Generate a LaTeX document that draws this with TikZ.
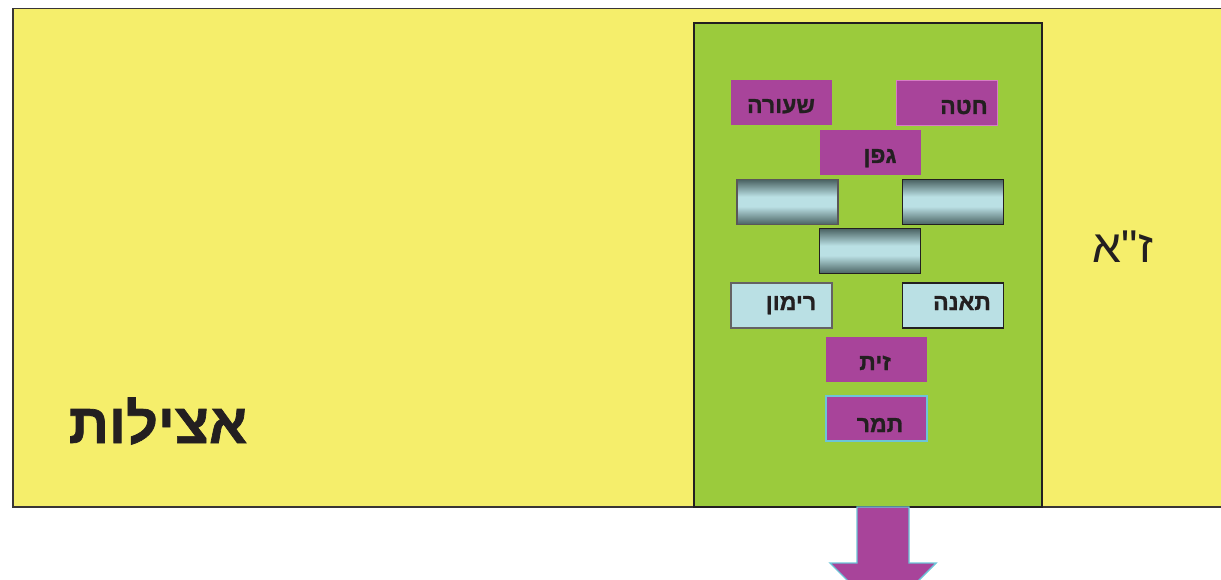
\documentclass[tikz,border=0pt]{standalone}
\usepackage{fontspec}
\TeXXeTstate=1
\newfontfamily\hebfont[Script=Hebrew, BoldFeatures={FakeBold=1.2}]{Liberation Sans}
\definecolor{yel}{HTML}{F5EE6B}
\definecolor{grn}{HTML}{9BCB3C}
\definecolor{mag}{HTML}{A8449A}
\definecolor{lblue}{HTML}{BAE0E4}
\definecolor{gdark}{HTML}{4A6262}
\definecolor{cyanb}{HTML}{6CC5D8}
\definecolor{pinkb}{HTML}{D77CC6}
\definecolor{framec}{HTML}{231F20}
\pgfdeclareverticalshading{cylshade}{100bp}{color(0bp)=(gdark); color(25bp)=(gdark); color(45bp)=(lblue); color(56bp)=(lblue); color(75bp)=(gdark); color(100bp)=(gdark)}
\tikzset{
  box/.style={rectangle, inner sep=0pt, minimum width=101pt, minimum height=45pt},
  fruit/.style={box, fill=mag},
  pale/.style={box, fill=lblue, draw=framec, line width=1.2pt},
  grad/.style={box, shading=cylshade, draw=framec, line width=1.2pt},
  lbl/.style={font=\hebfont\bfseries\fontsize{23}{26}\selectfont, text=framec, inner sep=0pt, anchor=base},
}
\begin{document}
\begin{tikzpicture}[x=1pt,y=-1pt]
\useasboundingbox (0,0) rectangle (1221,580);
\clip (0,0) rectangle (1221,580);
% worlds
\fill[white] (0,0) rectangle (1221,580);
\draw[fill=yel, draw=framec!90, line width=1.6pt] (13,8.5) rectangle (1240,507);
\draw[fill=grn, draw=framec, line width=1.8pt] (694,23) rectangle (1042,507);
\node[font=\hebfont\bfseries\fontsize{56}{60}\selectfont, text=framec, inner sep=0pt, anchor=base] (atz) at (158,443) {\beginR אצילות\endR};
\node[font=\hebfont\fontsize{46}{50}\selectfont, text=framec, inner sep=0pt, anchor=base] (za) at (1123,262) {\beginR ז"א\endR};
% boxes
\node[fruit] (seora) at (781.5,103) {};
\node[fruit, draw=pinkb, line width=1.2pt] (hita) at (947,103) {};
\node[fruit] (gefen) at (870.5,152.5) {};
\node[grad, draw=framec!75] (g1) at (787.5,202) {};
\node[grad, line width=1.6pt] (g2) at (953,202) {};
\node[grad, line width=1.6pt] (g3) at (870,251) {};
\node[pale, draw=framec!70] (rimon) at (781.5,305.5) {};
\node[pale, line width=1.6pt] (teena) at (953,305.5) {};
\node[fruit] (zayit) at (876.5,359) {};
\node[fruit, draw=cyanb, line width=1.5pt] (tamar) at (876.5,418.5) {};
% labels
\node[lbl] (tseora) at (781,113) {\beginR שעורה\endR};
\node[lbl] (thita) at (964,114) {\beginR חטה\endR};
\node[lbl] (tgefen) at (880,163) {\beginR גפן\endR};
\node[lbl] (trimon) at (791,310) {\beginR רימון\endR};
\node[lbl] (tteena) at (962,310) {\beginR תאנה\endR};
\node[lbl] (tzayit) at (875,370) {\beginR זית\endR};
\node[lbl] (ttamar) at (880,432) {\beginR תמר\endR};
% arrow downward
\draw[fill=mag, draw=cyanb, line width=1.4pt, line join=miter]
  (857,507) -- (909,507) -- (909,563) -- (936,563) -- (883,616) -- (830,563) -- (857,563) -- cycle;
\end{tikzpicture}
\end{document}
